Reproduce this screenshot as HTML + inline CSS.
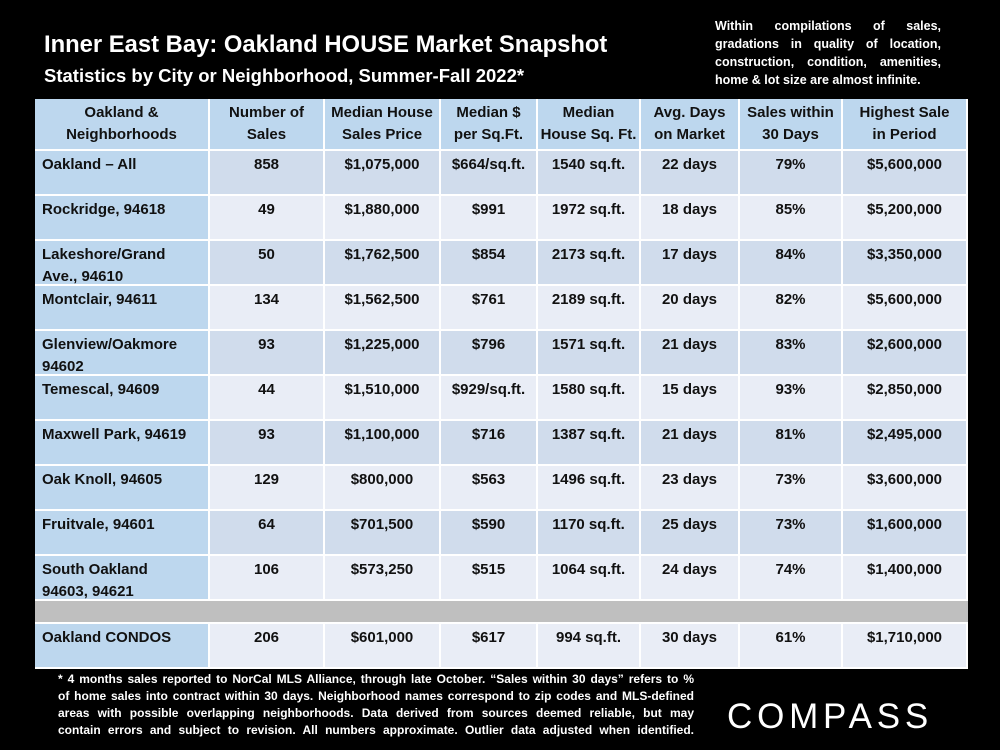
<!DOCTYPE html>
<html><head><meta charset="utf-8"><style>
body{margin:0;width:1000px;height:750px;background:#000;overflow:hidden;position:relative;font-family:"Liberation Sans",sans-serif;}
.t{position:absolute;color:#fff;font-weight:bold;}
.cell{position:absolute;box-sizing:border-box;font-weight:bold;font-size:15px;color:#111;line-height:22px;border-right:2px solid #fff;border-bottom:2px solid #fff;}
.fl{text-align:justify;text-align-last:justify;white-space:nowrap;}
</style></head><body>
<div class="t" style="left:44px;top:31px;font-size:23.8px;">Inner East Bay: Oakland HOUSE Market Snapshot</div>
<div class="t" style="left:44px;top:65px;font-size:18.5px;">Statistics by City or Neighborhood, Summer-Fall 2022*</div>
<div class="t" style="left:715px;top:17px;width:226px;font-size:12.5px;line-height:18px;text-align:justify;text-align-last:left;">Within compilations of sales, gradations in quality of location, construction, condition, amenities, home &amp; lot size are almost infinite.</div>
<div id="tbl"></div>
<div class="t" style="left:58px;top:671px;width:636px;font-size:12px;line-height:17px;">
<div class="fl">* 4 months sales reported to NorCal MLS Alliance, through late October. “Sales within 30 days” refers to %</div>
<div class="fl">of home sales into contract within 30 days. Neighborhood names correspond to zip codes and MLS-defined</div>
<div class="fl">areas with possible overlapping neighborhoods. Data derived from sources deemed reliable, but may</div>
<div class="fl">contain errors and subject to revision. All numbers approximate. Outlier data adjusted when identified.</div>
</div>
<div class="t" style="left:727px;top:697px;font-size:35px;font-weight:normal;letter-spacing:4.8px;">COMPASS</div>
<script>
const headers=["Oakland &amp;<br>Neighborhoods","Number of<br>Sales","Median House<br>Sales Price","Median $<br>per Sq.Ft.","Median<br>House Sq. Ft.","Avg. Days<br>on Market","Sales within<br>30 Days","Highest Sale<br>in Period"];
const areas=["Oakland – All","Rockridge, 94618","Lakeshore/Grand<br>Ave., 94610","Montclair, 94611","Glenview/Oakmore<br>94602","Temescal, 94609","Maxwell Park, 94619","Oak Knoll, 94605","Fruitvale, 94601","South Oakland<br>94603, 94621",null,"Oakland CONDOS"];
const sales=["858","49","50","134","93","44","93","129","64","106",null,"206"];
const prices=["$1,075,000","$1,880,000","$1,762,500","$1,562,500","$1,225,000","$1,510,000","$1,100,000","$800,000","$701,500","$573,250",null,"$601,000"];
const ppsf=["$664/sq.ft.","$991","$854","$761","$796","$929/sq.ft.","$716","$563","$590","$515",null,"$617"];
const sqft=["1540 sq.ft.","1972 sq.ft.","2173 sq.ft.","2189 sq.ft.","1571 sq.ft.","1580 sq.ft.","1387 sq.ft.","1496 sq.ft.","1170 sq.ft.","1064 sq.ft.",null,"994 sq.ft."];
const days=["22 days","18 days","17 days","20 days","21 days","15 days","21 days","23 days","25 days","24 days",null,"30 days"];
const pct30=["79%","85%","84%","82%","83%","93%","81%","73%","73%","74%",null,"61%"];
const highest=["$5,600,000","$5,200,000","$3,350,000","$5,600,000","$2,600,000","$2,850,000","$2,495,000","$3,600,000","$1,600,000","$1,400,000",null,"$1,710,000"];
const cols=[35,210,325,441,538,641,740,843,968];
const tbl=document.getElementById('tbl');
function mk(x,y,w,h,html,bg,align,name){
  const d=document.createElement('div');
  d.className='cell';
  
  
  d.style.cssText=`left:${x}px;top:${y}px;width:${w}px;height:${h}px;background:${bg};text-align:${align};padding:${align=='left'?'3px 0 0 7px':'3px 2px 0 2px'};white-space:nowrap;`;
  d.innerHTML=html;tbl.appendChild(d);
}
for(let c=0;c<8;c++){
  mk(cols[c],99,cols[c+1]-cols[c],52,headers[c],'#bdd7ee','center','header-cell');
  tbl.lastChild.style.paddingTop='3px';
}
const data=[sales,prices,ppsf,sqft,days,pct30,highest];
let y=151;
for(let r=0;r<areas.length;r++){
  if(areas[r]===null){
    mk(35,y,933,23,'','#bfbfbf','center','separator-row');
    tbl.lastChild.style.borderRight='none';
    y+=23;continue;
  }
  const h=45;
  mk(35,y,175,h,areas[r],'#bdd7ee','left','area-name');
  const bg=(r%2==0)?'#d0dcec':'#e9edf6';
  for(let c=0;c<7;c++) mk(cols[c+1],y,cols[c+2]-cols[c+1],h,data[c][r],bg,'center','data-cell');
  y+=h;
}
</script>
</body></html>
